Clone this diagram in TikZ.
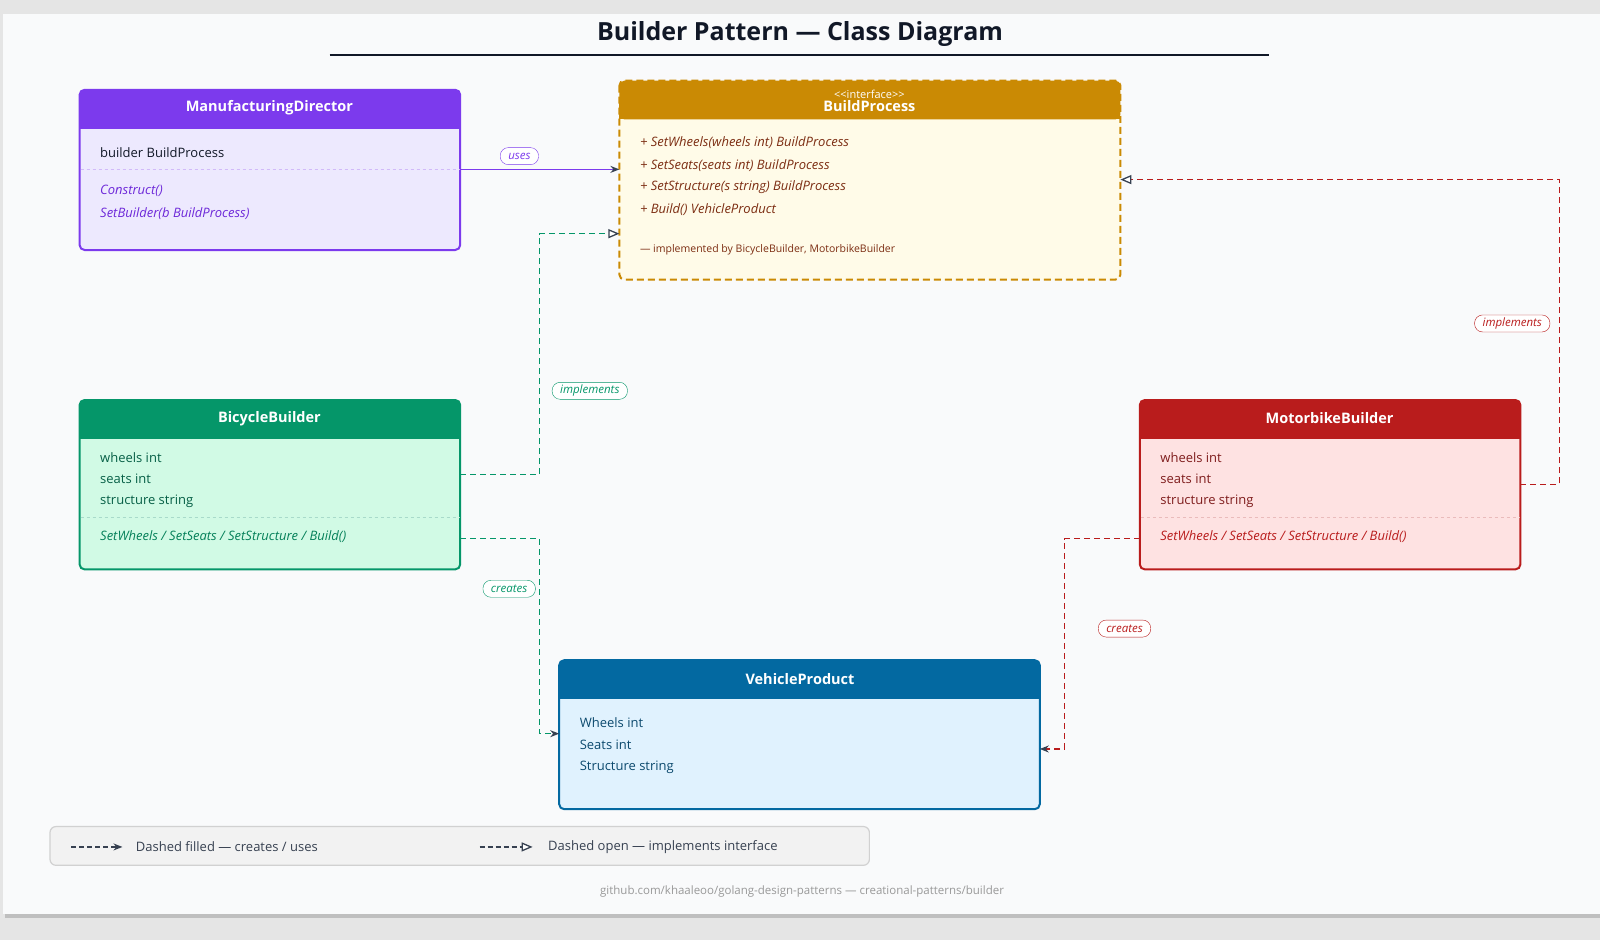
\documentclass[tikz,border=0pt]{standalone}
\usepackage{fontspec}
\setmainfont{Open Sans}
\usetikzlibrary{arrows.meta,positioning}
\definecolor{pg}{HTML}{E5E5E5}
\definecolor{card}{HTML}{F9FAFB}
\definecolor{ink}{HTML}{111827}
\definecolor{tipc}{HTML}{374151}
\definecolor{pu}{HTML}{7C3AED}\definecolor{puf}{HTML}{EDE9FE}\definecolor{put}{HTML}{6D28D9}
\definecolor{go}{HTML}{CA8A04}\definecolor{gof}{HTML}{FFFBE8}\definecolor{got}{HTML}{7C2D12}
\definecolor{gr}{HTML}{059669}\definecolor{grf}{HTML}{D1FAE5}\definecolor{grt}{HTML}{065F46}
\definecolor{rd}{HTML}{B91C1C}\definecolor{rdf}{HTML}{FEE2E2}\definecolor{rdt}{HTML}{7F1D1D}
\definecolor{bl}{HTML}{0369A1}\definecolor{blf}{HTML}{E0F2FE}\definecolor{blt}{HTML}{0C4A6E}
\tikzset{
 txt/.style={anchor=west,inner sep=0pt,font=\fontsize{13}{15}\selectfont},
 mth/.style={txt,font=\fontsize{13}{15}\selectfont\itshape},
 hdr/.style={inner sep=0pt,text=white,font=\fontsize{14.5}{16}\selectfont\bfseries},
 pill/.style={draw=#1,text=#1,fill=white,rounded corners=8pt,minimum height=17pt,inner xsep=8pt,inner ysep=1pt,font=\fontsize{11.5}{12}\selectfont\itshape},
 conn/.style={line width=1.3pt,dash pattern=on 6pt off 4pt},
 filled/.style={-{Stealth[length=9pt,width=7pt,color=tipc]}},
 opentip/.style={-{Triangle[open,length=11pt,width=9pt,color=tipc,fill=white]}},
}
\begin{document}
\begin{tikzpicture}[x=1.0204pt,y=-1.0204pt]
\useasboundingbox (0,0) rectangle (1568,921.2);
\fill[pg] (0,0) rectangle (1568,921.2);
\fill[black!25] (5,18) rectangle (1568,900);
\fill[card] (3,14) rectangle (1568,896);
\node[font=\fontsize{25}{30}\selectfont\bfseries,text=ink] (title) at (784,33) {Builder Pattern — Class Diagram};
\draw[ink,line width=1.3pt] (323,54) -- (1244,54);

% ManufacturingDirector
\draw[pu,fill=puf,line width=2pt,rounded corners=5pt] (78,88) rectangle (451,245);
\fill[pu,rounded corners=5pt] (78,88) rectangle (451,126);
\fill[pu] (78,110) rectangle (451,126);
\node[hdr] (md) at (264,106) {ManufacturingDirector};
\node[txt,text=ink] (md1) at (98,150) {builder BuildProcess};
\draw[pu!35,dashed] (79,166) -- (450,166);
\node[mth,text=put] (md2) at (98,187) {Construct()};
\node[mth,text=put] (md3) at (98,209) {SetBuilder(b BuildProcess)};
\coordinate (mdE) at (451,166);

% BuildProcess
\draw[go,fill=gof,line width=2pt,dash pattern=on 7pt off 4pt,rounded corners=5pt] (607,79) rectangle (1098,274);
\fill[go,rounded corners=5pt] (607,79) rectangle (1098,117);
\fill[go] (607,100) rectangle (1098,117);
\node[inner sep=0pt,text=white,font=\fontsize{11}{12}\selectfont] (bpst) at (852,92) {{<}{<}interface{>}{>}};
\node[hdr] (bp) at (852,104) {BuildProcess};
\node[mth,text=got] (bp1) at (627,140) {+ SetWheels(wheels int) BuildProcess};
\node[mth,text=got] (bp2) at (627,162) {+ SetSeats(seats int) BuildProcess};
\node[mth,text=got] (bp3) at (627,183) {+ SetStructure(s string) BuildProcess};
\node[mth,text=got] (bp4) at (627,205) {+ Build() VehicleProduct};
\node[txt,text=got,font=\fontsize{10.5}{12}\selectfont] (bpn) at (627,245) {— implemented by BicycleBuilder, MotorbikeBuilder};
\coordinate (bpW1) at (607,166);
\coordinate (bpW2) at (607,229);
\coordinate (bpE) at (1098,176);

% BicycleBuilder
\draw[gr,fill=grf,line width=2pt,rounded corners=5pt] (78,392) rectangle (451,558);
\fill[gr,rounded corners=5pt] (78,392) rectangle (451,430);
\fill[gr] (78,414) rectangle (451,430);
\node[hdr] (bb) at (264,410) {BicycleBuilder};
\node[txt,text=grt] (bb1) at (98,448) {wheels int};
\node[txt,text=grt] (bb2) at (98,469) {seats int};
\node[txt,text=grt] (bb3) at (98,491) {structure string};
\draw[gr!35,dashed] (79,507) -- (450,507);
\node[mth,text=gr!85!black] (bb4) at (98,526) {SetWheels / SetSeats / SetStructure / Build()};
\coordinate (bbE1) at (451,465);
\coordinate (bbE2) at (451,528);

% MotorbikeBuilder
\draw[rd,fill=rdf,line width=2pt,rounded corners=5pt] (1117,392) rectangle (1490,558);
\fill[rd,rounded corners=5pt] (1117,392) rectangle (1490,430);
\fill[rd] (1117,414) rectangle (1490,430);
\node[hdr] (mb) at (1303,410) {MotorbikeBuilder};
\node[txt,text=rdt] (mb1) at (1137,448) {wheels int};
\node[txt,text=rdt] (mb2) at (1137,469) {seats int};
\node[txt,text=rdt] (mb3) at (1137,491) {structure string};
\draw[rd!30,dashed] (1118,507) -- (1489,507);
\node[mth,text=rd] (mb4) at (1137,526) {SetWheels / SetSeats / SetStructure / Build()};
\coordinate (mbE) at (1490,475);
\coordinate (mbW) at (1117,528);

% VehicleProduct
\draw[bl,fill=blf,line width=2pt,rounded corners=5pt] (548,647) rectangle (1019,793);
\fill[bl,rounded corners=5pt] (548,647) rectangle (1019,685);
\fill[bl] (548,669) rectangle (1019,685);
\node[hdr] (vp) at (784,665) {VehicleProduct};
\node[txt,text=blt] (vp1) at (568,708) {Wheels int};
\node[txt,text=blt] (vp2) at (568,730) {Seats int};
\node[txt,text=blt] (vp3) at (568,752) {Structure string};
\coordinate (vpW) at (548,719);
\coordinate (vpE) at (1019,734);

% connectors
\draw[line width=1.3pt,pu,filled] (mdE) -- (bpW1);
\node[pill=pu] (luses) at (509,153) {uses};
\draw[conn,gr,opentip] (bbE1) -- (529,465) -- (529,229) -- (bpW2);
\node[pill=gr] (limpl1) at (578,383) {implements};
\draw[conn,gr,filled] (bbE2) -- (529,528) -- (529,719) -- (vpW);
\node[pill=gr] (lcr1) at (499,577) {creates};
\draw[conn,rd,opentip] (mbE) -- (1528,475) -- (1528,176) -- (bpE);
\node[pill=rd] (limpl2) at (1482,317) {implements};
\draw[conn,rd,filled] (mbW) -- (1043,528) -- (1043,734) -- (vpE);
\node[pill=rd] (lcr2) at (1102,616) {creates};

% legend
\draw[black!18,fill=black!5,line width=1.2pt,rounded corners=6pt] (49,810) rectangle (852,848);
\coordinate (la) at (70,830); \coordinate (lb) at (120,830);
\coordinate (lc) at (470,830); \coordinate (ld) at (522,830);
\draw[tipc,line width=1.3pt,dash pattern=on 5pt off 3pt,filled] (la) -- (lb);
\node[txt,text=tipc] (leg1) at (133,830) {Dashed filled — creates / uses};
\draw[tipc,line width=1.3pt,dash pattern=on 5pt off 3pt,opentip] (lc) -- (ld);
\node[txt,text=tipc] (leg2) at (537,830) {Dashed open — implements interface};
\node[inner sep=0pt,text=black!40,font=\fontsize{11.5}{13}\selectfont] (foot) at (786,874) {github.com/khaaleoo/golang-design-patterns — creational-patterns/builder};
\end{tikzpicture}
\end{document}
